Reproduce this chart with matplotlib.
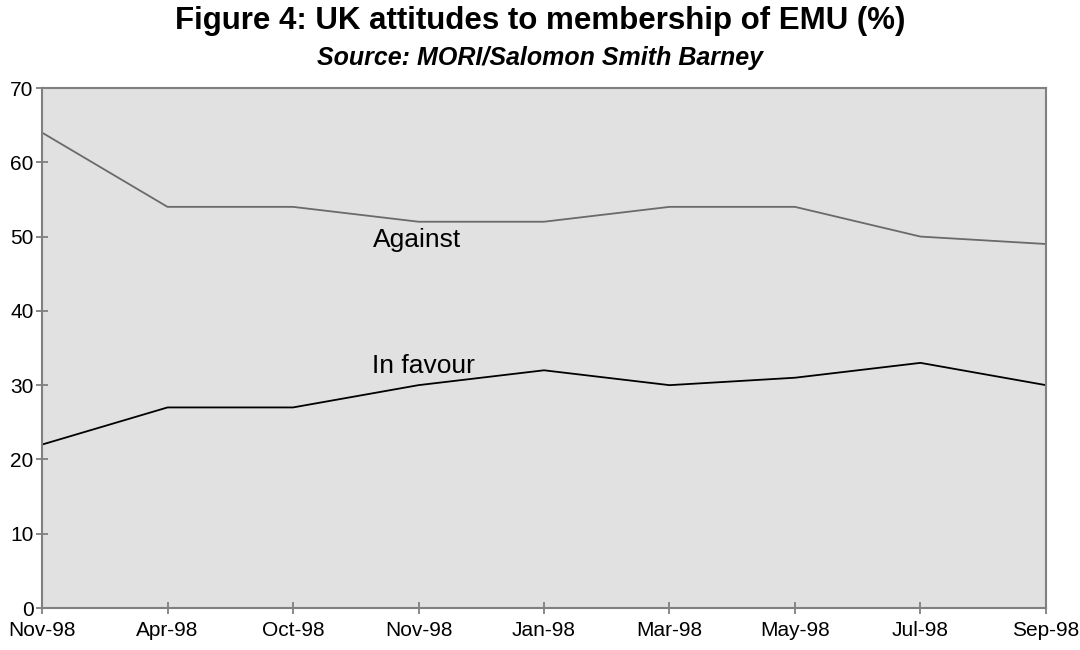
import matplotlib
matplotlib.use("Agg")
import matplotlib.pyplot as plt

# Data
months = ["Nov-98", "Apr-98", "Oct-98", "Nov-98", "Jan-98", "Mar-98", "May-98", "Jul-98", "Sep-98"]
against = [64, 54, 54, 52, 52, 54, 54, 50, 49]
in_favour = [22, 27, 27, 30, 32, 30, 31, 33, 30]
y_ticks = [0, 10, 20, 30, 40, 50, 60, 70]

plt.rcParams['font.family'] = ['Liberation Sans', 'DejaVu Sans']

fig = plt.figure(figsize=(10.8, 6.5), dpi=100)
ax = fig.add_axes([0.0389, 0.0646, 0.9296, 0.8])

x = list(range(len(months)))
ax.plot(x, against, color='#6a6a6a', linewidth=1.3)
ax.plot(x, in_favour, color='black', linewidth=1.3)

# series labels placed inside the plot
ax.text(2.64, 48.6, "Against", fontsize=19, ha='left', va='baseline')
ax.text(2.63, 31.6, "In favour", fontsize=19, ha='left', va='baseline')

ax.set_facecolor('#e1e1e1')
ax.set_xlim(0, len(months) - 1)
ax.set_ylim(0, 70)
ax.set_xticks(x)
ax.set_xticklabels(months)
ax.set_yticks(y_ticks)
for s in ax.spines.values():
    s.set_color('#808080')
    s.set_linewidth(1.5)
ax.tick_params(axis='both', direction='inout', length=8, width=1.3, color='#808080',
               labelsize=15)
ax.tick_params(axis='x', pad=5)
ax.tick_params(axis='y', pad=2)

fig.text(0.5, 0.9554, "Figure 4: UK attitudes to membership of EMU (%)",
         ha='center', va='baseline', fontsize=22.5, fontweight='bold')
fig.text(0.5, 0.9, "Source: MORI/Salomon Smith Barney",
         ha='center', va='baseline', fontsize=18, fontweight='bold', style='italic')

fig.savefig("out.png", dpi=100)
